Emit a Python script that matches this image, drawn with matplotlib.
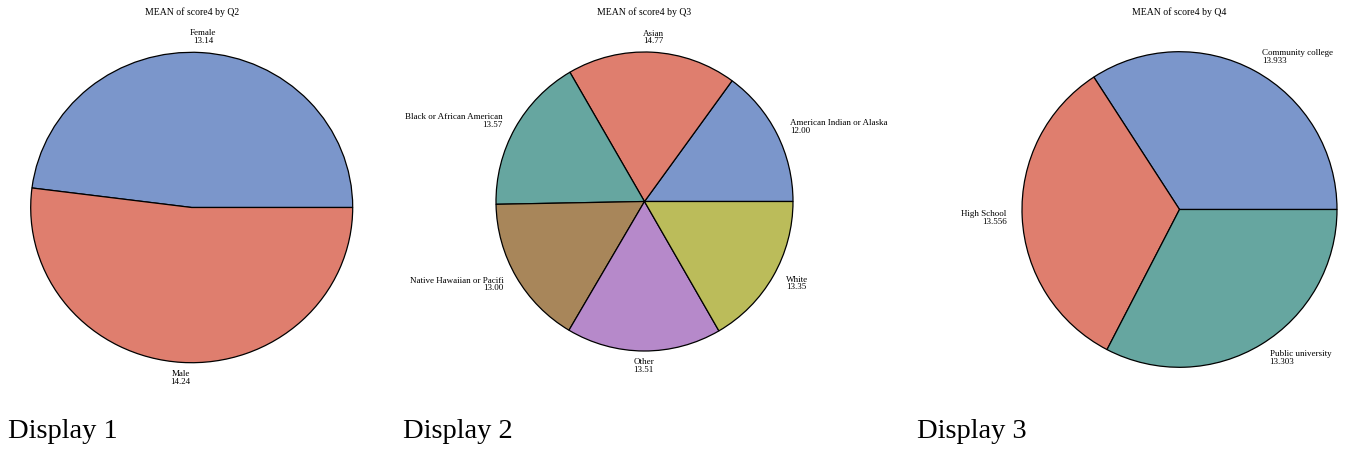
import matplotlib
matplotlib.use('Agg')
import matplotlib.pyplot as plt
import numpy as np

# --------------- DATA ------------------
q2_labels = ['Female', 'Male']
q2_means = [13.14, 14.24]

q3_labels = ['American Indian or Alaska', 'Asian', 'Black or African American',
             'Native Hawaiian or Pacifi', 'Other', 'White']
q3_means = [12.00, 14.77, 13.57, 13.00, 13.51, 13.35]

q4_labels = ['Community college', 'High School', 'Public university']
q4_means = [13.933, 13.556, 13.303]

COLORS = ['#7b96cb', '#df7e6e', '#66a6a0', '#a8865a', '#b689ca', '#bbbc5a']

W, H = 1346, 451
SERIF = ['Liberation Serif', 'DejaVu Serif']


def draw_pie(fig, cx, cy, rx, ry, labels, vals, fmt, title):
    """ Draws one pie; cx, cy, rx, ry are in pixels (y from top) """
    left = (cx - 1.25 * rx) / W
    bottom = (H - cy - 1.25 * ry) / H
    ax = fig.add_axes([left, bottom, 2.5 * rx / W, 2.5 * ry / H])
    txt = [lab + '\n' + fmt.format(v) for lab, v in zip(labels, vals)]
    wedges, texts = ax.pie(vals, labels=txt, colors=COLORS[:len(vals)],
                           labeldistance=1.1, startangle=0,
                           wedgeprops=dict(edgecolor='black', linewidth=0.9),
                           textprops=dict(fontsize=6.5, family=SERIF, linespacing=0.9))
    ax.set_aspect('auto')
    ax.set_xlim(-1.25, 1.25)
    ax.set_ylim(-1.25, 1.25)
    for t in texts:
        x, y = t.get_position()
        ang = np.arctan2(y, x)
        if abs(np.cos(ang)) < 0.2:
            t.set_ha('center')
        elif x > 0:
            t.set_ha('left')
        else:
            t.set_ha('right')
        t.set_multialignment(t.get_ha())
    fig.text(cx / W, 1 - 12 / H, title, ha='center', va='center',
             fontsize=7, family=SERIF)
    return ax


fig = plt.figure(figsize=(W / 100, H / 100), dpi=100)

draw_pie(fig, 191.7, 207.5, 161, 155.2, q2_labels, q2_means, '{:.2f}', 'MEAN of score4 by Q2')
draw_pie(fig, 644.5, 201.5, 148.5, 149.5, q3_labels, q3_means, '{:.2f}', 'MEAN of score4 by Q3')
draw_pie(fig, 1179.5, 209.5, 157.5, 157.8, q4_labels, q4_means, '{:.3f}', 'MEAN of score4 by Q4')

for i, xpos in enumerate([8, 403, 917]):
    fig.text(xpos / W, 1 - 438 / H, 'Display ' + str(i + 1), ha='left', va='baseline',
             fontsize=20.5, family=SERIF)

fig.savefig('out.png', dpi=100)
